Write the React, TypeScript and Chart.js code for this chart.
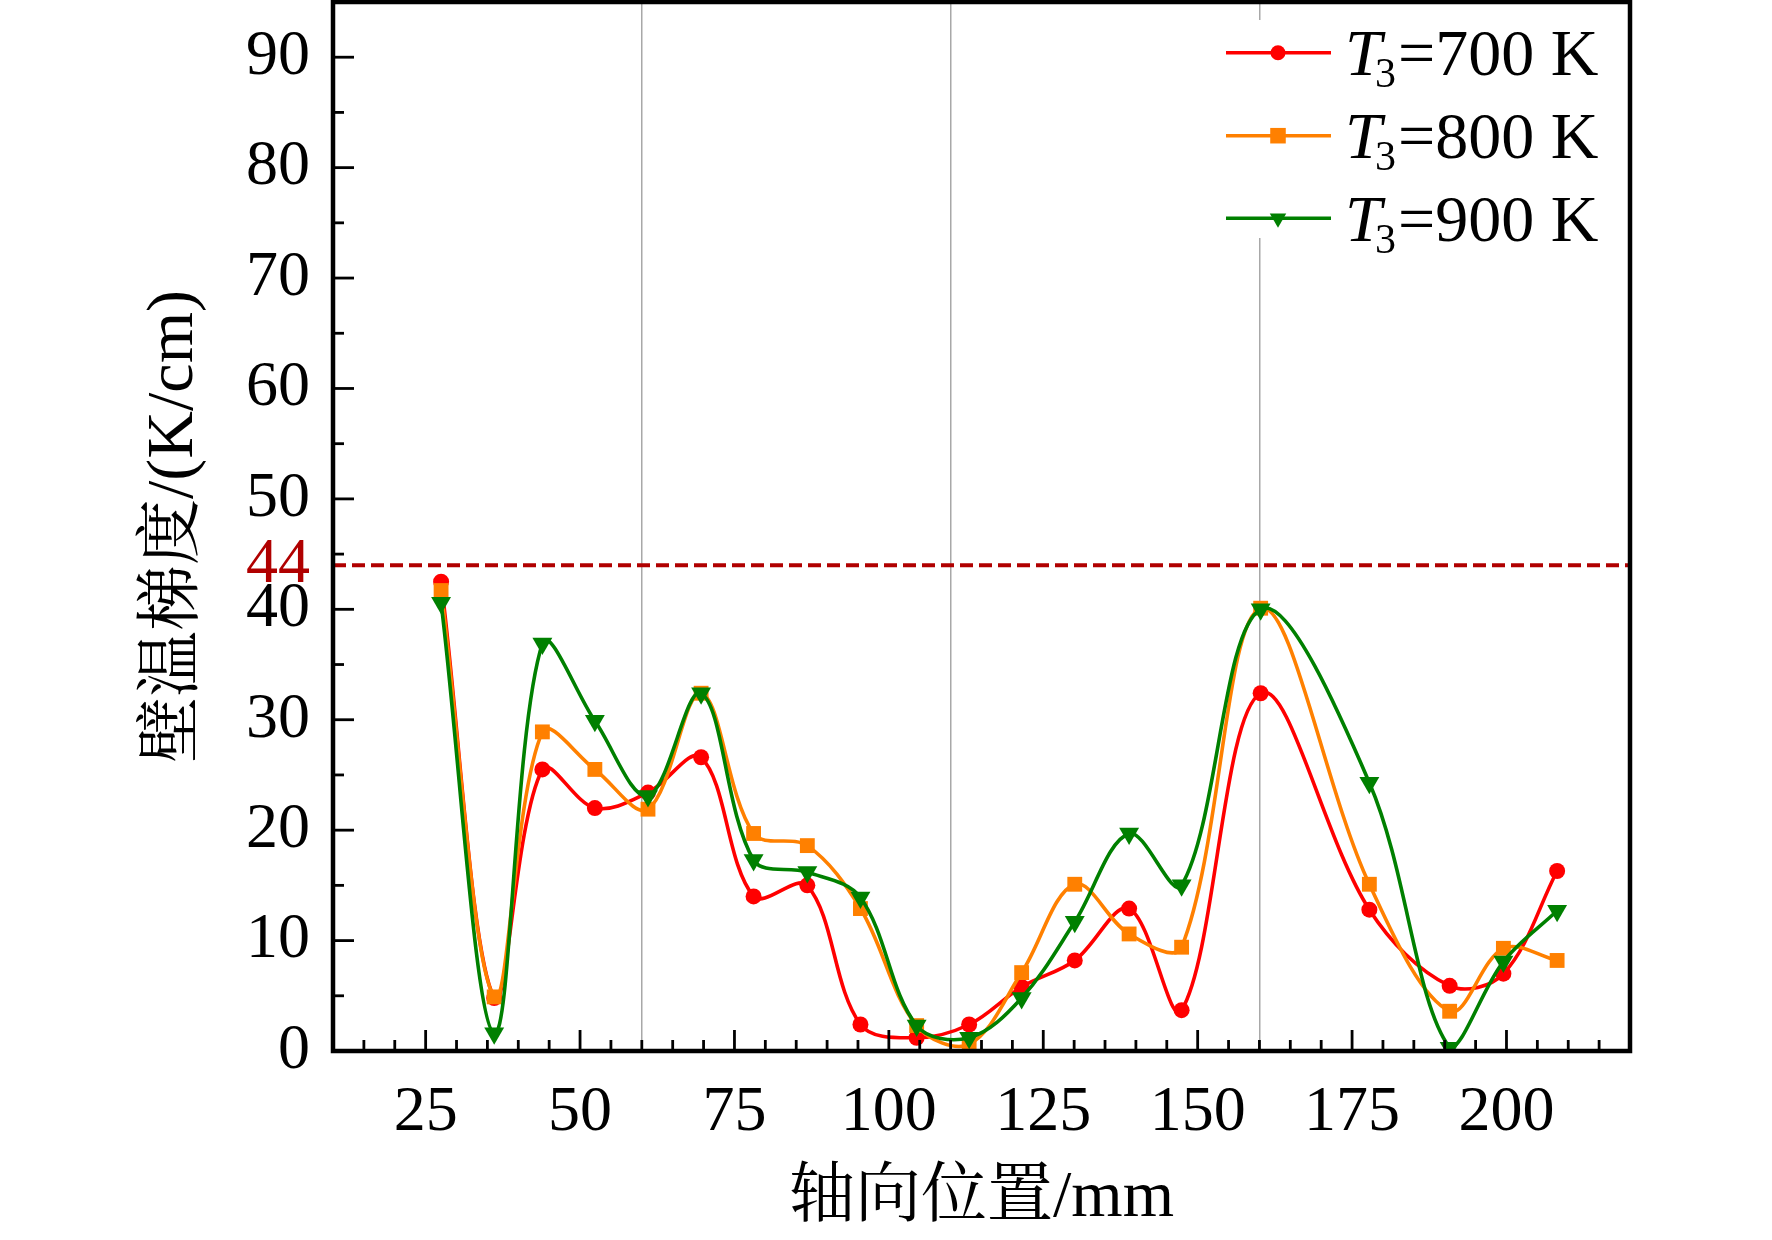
import React, { useEffect, useRef } from 'react';
import { Chart, registerables } from 'chart.js';

Chart.register(...registerables);

// 轴向位置 (mm)
const positions = [27.5, 36.1, 43.9, 52.4, 61.0, 69.6, 78.1, 86.8, 95.4, 104.5, 113.0, 121.5, 130.1, 138.9, 147.4, 160.2, 177.8, 190.8, 199.5, 208.2];

// 壁温梯度 (K/cm)
const gradT700 = [42.5, 4.8, 25.5, 22.0, 23.4, 26.6, 14.0, 15.0, 2.4, 1.2, 2.4, 5.8, 8.2, 12.9, 3.7, 32.4, 12.8, 5.9, 7.0, 16.3];
const gradT800 = [41.7, 4.9, 28.9, 25.5, 21.9, 32.4, 19.7, 18.6, 12.9, 2.3, 0.6, 7.1, 15.1, 10.6, 9.4, 40.1, 15.1, 3.6, 9.3, 8.2];
const gradT900 = [40.6, 1.6, 36.9, 29.9, 23.1, 32.4, 17.3, 16.2, 13.9, 2.3, 1.2, 4.8, 11.7, 19.7, 15.0, 40.0, 24.3, 0.3, 8.1, 12.7];

const seriesNames = ['700 K', '800 K', '900 K'];

const LIMIT = 44;
const xLabels = [25, 50, 75, 100, 125, 150, 175, 200];
const yLabels = [0, 10, 20, 30, 40, 50, 60, 70, 80, 90];
const refLines = [60, 110, 160];

const SERIF = '"Liberation Serif", "Noto Serif CJK SC", "Noto Sans CJK SC", serif';
const DARK_RED = '#b00000';

const styles = [
  { color: '#ff0000', point: 'circle', radius: 8, rotation: 0 },
  { color: '#ff8000', point: 'rect', radius: 10.5, rotation: 0 },
  { color: '#008000', point: 'triangle', radius: 11.5, rotation: 180 },
];

const toPoints = (ys: number[]) => ys.map((y, i) => ({ x: positions[i], y }));

// marker for the legend, same shapes as the chart
function drawMarker(ctx: CanvasRenderingContext2D, kind: string, x: number, y: number, r: number) {
  ctx.beginPath();
  if (kind === 'circle') {
    ctx.arc(x, y, r, 0, Math.PI * 2);
  } else if (kind === 'rect') {
    const s = Math.SQRT1_2 * r;
    ctx.rect(x - s, y - s, 2 * s, 2 * s);
  } else {
    ctx.moveTo(x, y + r);
    ctx.lineTo(x - r * Math.sin(Math.PI / 3), y - r / 2);
    ctx.lineTo(x + r * Math.sin(Math.PI / 3), y - r / 2);
    ctx.closePath();
  }
  ctx.fill();
}

const framePlugin = {
  id: 'frame',
  afterDatasetsDraw(chart: any) {
    const { ctx, chartArea: a, scales } = chart;
    ctx.save();
    ctx.strokeStyle = '#000';
    ctx.lineWidth = 2.8;
    scales.x.ticks.forEach((t: any) => {
      const px = scales.x.getPixelForValue(t.value);
      const len = t.value % 25 === 0 ? 21 : 11;
      ctx.beginPath();
      ctx.moveTo(px, a.bottom);
      ctx.lineTo(px, a.bottom - len);
      ctx.stroke();
    });
    scales.y.ticks.forEach((t: any) => {
      if (t.value === LIMIT) return;
      const py = scales.y.getPixelForValue(t.value);
      const len = t.value % 10 === 0 ? 21 : 11;
      ctx.beginPath();
      ctx.moveTo(a.left, py);
      ctx.lineTo(a.left + len, py);
      ctx.stroke();
    });
    ctx.lineWidth = 4.5;
    ctx.strokeRect(a.left, a.top, a.right - a.left, a.bottom - a.top);
    ctx.restore();
  },
};

const legendPlugin = {
  id: 'subLegend',
  afterDraw(chart: any) {
    const { ctx } = chart;
    ctx.save();
    ctx.fillStyle = '#fff';
    ctx.fillRect(1212, 20, 412, 218);
    const rows = [52.7, 135.7, 218.3];
    seriesNames.forEach((name, i) => {
      const st = styles[i];
      const y = rows[i];
      ctx.strokeStyle = st.color;
      ctx.fillStyle = st.color;
      ctx.lineWidth = 3.5;
      ctx.beginPath();
      ctx.moveTo(1226, y);
      ctx.lineTo(1331, y);
      ctx.stroke();
      drawMarker(ctx, st.point, 1278, y, st.point === 'triangle' ? 9.5 : st.point === 'rect' ? 11 : 7.5);

      const base = y + 22.5;
      let x = 1345;
      ctx.fillStyle = '#000';
      ctx.textBaseline = 'alphabetic';
      ctx.textAlign = 'left';
      ctx.font = `italic 66px ${SERIF}`;
      ctx.fillText('T', x, base);
      x += 30;
      ctx.font = `42px ${SERIF}`;
      ctx.fillText('3', x, base + 12);
      x += ctx.measureText('3').width + 2;
      ctx.font = `66px ${SERIF}`;
      ctx.fillText('=' + name, x, base);
    });
    ctx.restore();
  },
};

const App: React.FC = () => {
  const canvasRef = useRef<HTMLCanvasElement>(null);
  const chartRef = useRef<Chart | null>(null);

  useEffect(() => {
    document.body.style.margin = '0';
    if (!canvasRef.current) return;
    if (chartRef.current) chartRef.current.destroy();

    const seriesData = [gradT700, gradT800, gradT900];

    chartRef.current = new Chart(canvasRef.current, {
      type: 'line',
      data: {
        datasets: [
          {
            label: 'limit',
            data: [{ x: 10, y: LIMIT }, { x: 220, y: LIMIT }],
            borderColor: DARK_RED,
            borderWidth: 4,
            borderDash: [13, 6],
            pointRadius: 0,
            tension: 0,
            order: 4,
          },
          ...seriesData.map((ys, i) => ({
            label: 'T3=' + seriesNames[i],
            data: toPoints(ys),
            borderColor: styles[i].color,
            backgroundColor: styles[i].color,
            borderWidth: 3.6,
            tension: 0.35,
            pointStyle: styles[i].point,
            pointRadius: styles[i].radius,
            pointRotation: styles[i].rotation,
            pointBorderWidth: 0,
            pointBackgroundColor: styles[i].color,
            order: 3 - i,
          })),
        ],
      },
      options: {
        responsive: false,
        animation: false,
        devicePixelRatio: 1,
        layout: { autoPadding: false, padding: { top: 2, right: 142, left: 0, bottom: 0 } },
        plugins: {
          legend: { display: false },
          tooltip: { enabled: false },
        },
        scales: {
          x: {
            type: 'linear',
            min: 10,
            max: 220,
            afterFit: (s: any) => {
              s.height = 189;
              s.paddingLeft = 0;
              s.paddingRight = 0;
            },
            ticks: {
              stepSize: 5,
              autoSkip: false,
              maxRotation: 0,
              padding: 24,
              color: '#000',
              font: { family: SERIF, size: 64 },
              callback: (v: any) => (xLabels.includes(Number(v)) ? String(v) : ''),
            },
            grid: {
              drawTicks: false,
              lineWidth: 1.5,
              color: (c: any) => (refLines.includes(c.tick?.value) ? '#a8a8a8' : 'rgba(0,0,0,0)'),
            },
            border: { display: false },
            title: {
              display: true,
              text: '轴向位置/mm',
              color: '#000',
              font: { family: SERIF, size: 66 },
              padding: { top: 0, bottom: 2 },
            },
          },
          y: {
            type: 'linear',
            min: 0,
            max: 95,
            afterFit: (s: any) => {
              s.width = 333;
              s.paddingTop = 0;
              s.paddingBottom = 0;
            },
            afterBuildTicks: (s: any) => {
              s.ticks = [...s.ticks, { value: LIMIT }].sort((p: any, q: any) => p.value - q.value);
            },
            ticks: {
              stepSize: 5,
              autoSkip: false,
              padding: 15,
              color: (c: any) => (c.tick?.value === LIMIT ? DARK_RED : '#000'),
              font: { family: SERIF, size: 64 },
              callback: (v: any) => (yLabels.includes(Number(v)) || Number(v) === LIMIT ? String(v) : ''),
            },
            grid: { display: false },
            border: { display: false },
            title: {
              display: true,
              text: '壁温梯度/(K/cm)',
              color: '#000',
              font: { family: SERIF, size: 66 },
              padding: { top: 135, bottom: 0 },
            },
          },
        },
      },
      plugins: [framePlugin, legendPlugin],
    } as any);

    return () => {
      if (chartRef.current) {
        chartRef.current.destroy();
        chartRef.current = null;
      }
    };
  }, []);

  return (
    <div style={{ width: 1772, height: 1240, background: '#fff' }}>
      <canvas ref={canvasRef} width={1772} height={1240}></canvas>
    </div>
  );
};

export default App;
